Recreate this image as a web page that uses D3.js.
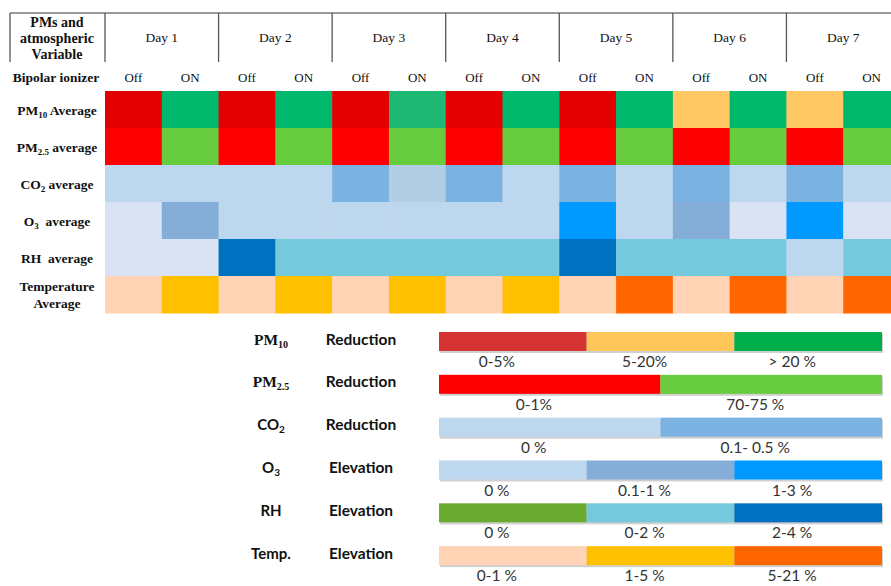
<!DOCTYPE html>
<html>
<head>
<meta charset="utf-8">
<script src="https://cdn.jsdelivr.net/npm/d3@7"></script>
<style>
  body { margin: 0; background: #fff; }
  svg { display: block; }
  text { white-space: pre; }
</style>
</head>
<body>
<script>
// ---- data ----
const days = ["Day 1", "Day 2", "Day 3", "Day 4", "Day 5", "Day 6", "Day 7"];
const ionizer = ["Off", "ON"];
const rowLabels = [["PM_{10} Average"], ["PM_{2.5} average"], ["CO_{2} average"],
                   ["O_{3}  average"], ["RH  average"], ["Temperature", "Average"]];

// one colour key per cell, Day 1 Off, Day 1 ON, Day 2 Off, ...
const pm10Cells = ["darkred","emerald","darkred","emerald","darkred","emerald2","darkred","emerald","darkred","emerald","apricot","emerald","apricot","emerald"];
const pm25Cells = ["red","lime","red","lime","red","lime","red","lime","red","lime","red","lime","red","lime"];
const co2Cells  = ["sky","sky","sky","sky","steel","mist","steel","sky","steel","sky","steel","sky","steel","sky"];
const o3Cells   = ["ice","slate","sky","sky","sky","sky","sky","sky","azure","sky","slate","ice","azure","ice"];
const rhCells   = ["ice","ice","navy","cyan","cyan","cyan","cyan","cyan","navy","cyan","cyan","cyan","sky","cyan"];
const tempCells = ["peach","amber","peach","amber","peach","amber","peach","amber","peach","orange","peach","orange","peach","orange"];
const cellRows = [pm10Cells, pm25Cells, co2Cells, o3Cells, rhCells, tempCells];

// legend
const legendNames  = ["PM_{10}", "PM_{2.5}", "CO_{2}", "O_{3}", "RH", "Temp."];
const legendKinds  = ["Reduction", "Reduction", "Reduction", "Elevation", "Elevation", "Elevation"];
const legendRanges = [["0-5%", "5-20%", "> 20 %"], ["0-1%", "70-75 %"], ["0 %", "0.1- 0.5 %"],
                      ["0 %", "0.1-1 %", "1-3 %"], ["0 %", "0-2 %", "2-4 %"], ["0-1 %", "1-5 %", "5-21 %"]];
const legendKeys   = [["brick", "gold", "forest"], ["red", "lime"], ["sky", "steel"],
                      ["sky", "slate", "azure"], ["grass", "cyan", "navy"], ["peach", "amber", "orange"]];

const colorKeys = ["darkred","emerald","emerald2","apricot","red","lime","ice","sky","steel","mist",
                   "slate","azure","navy","cyan","peach","amber","orange","brick","gold","forest","grass"];
const colorVals = ["#E30000","#00B86C","#1DB874","#FFC864","#FF0000","#68CC3F","#DAE3F3","#BDD7EE","#7AB2E1","#B3CDE4",
                   "#84AED8","#0099FF","#0070C0","#75C9DD","#FFD3B4","#FFC000","#FF6600","#D63333","#FFC65A","#00AE4C","#6BAA30"];

// ---- setup ----
const W = 891, H = 586;
const serif = "'Liberation Serif', 'Times New Roman', serif";
const sans = "Lato, 'Liberation Sans', Arial, sans-serif";

const svg = d3.select("body").append("svg")
    .attr("width", W)
    .attr("height", H);

const color = d3.scaleOrdinal().domain(colorKeys).range(colorVals);

const cols = d3.range(days.length * 2);
const xScale = d3.scaleBand().domain(cols).range([105, 900]);
const dayScale = d3.scaleBand().domain(days).range([105, 900]);
const yScale = d3.scaleBand().domain(d3.range(rowLabels.length)).range([91, 313]);

// text with _{sub} parts
function rich(sel, str, subSize) {
    const parts = str.split(/_\{([^}]*)\}/);
    let shifted = false;
    parts.forEach((p, i) => {
        if (!p) return;
        const t = sel.append("tspan").text(p);
        if (i % 2) { t.attr("font-size", subSize).attr("dy", 3); shifted = true; }
        else if (shifted) { t.attr("dy", -3); shifted = false; }
    });
}

// ---- header ----
svg.append("line")
    .attr("x1", 10).attr("x2", W).attr("y1", 13).attr("y2", 13)
    .attr("stroke", "#9a9a9a").attr("stroke-width", 2);

const seps = [10].concat(days.map(d => dayScale(d)));
svg.selectAll("line.sep").data(seps).enter().append("line")
    .attr("class", "sep")
    .attr("x1", d => d).attr("x2", d => d)
    .attr("y1", 13).attr("y2", 62)
    .attr("stroke", "#555").attr("stroke-width", 1.3);

const hdr = svg.append("text")
    .attr("font-family", serif).attr("font-weight", "bold").attr("font-size", 14)
    .attr("text-anchor", "middle").attr("fill", "#111");
["PMs and", "atmospheric", "Variable"].forEach((s, i) => {
    hdr.append("tspan").attr("x", 57).attr("y", 27 + i * 16).text(s);
});

svg.selectAll("text.day").data(days).enter().append("text")
    .attr("class", "day")
    .attr("x", d => dayScale(d) + dayScale.bandwidth() / 2)
    .attr("y", 42)
    .attr("text-anchor", "middle")
    .attr("font-family", serif).attr("font-size", 13.5).attr("fill", "#111")
    .text(d => d);

svg.append("text")
    .attr("x", 56).attr("y", 82)
    .attr("text-anchor", "middle")
    .attr("font-family", serif).attr("font-weight", "bold").attr("font-size", 13.5).attr("fill", "#111")
    .text("Bipolar ionizer");

svg.selectAll("text.state").data(cols).enter().append("text")
    .attr("class", "state")
    .attr("x", d => xScale(d) + xScale.bandwidth() / 2)
    .attr("y", 82)
    .attr("text-anchor", "middle")
    .attr("font-family", serif).attr("font-size", 13).attr("fill", "#111")
    .text(d => ionizer[d % 2]);

// ---- row labels ----
rowLabels.forEach((lines, r) => {
    const cy = yScale(r) + yScale.bandwidth() / 2 + 5;
    lines.forEach((s, k) => {
        const t = svg.append("text")
            .attr("x", 57)
            .attr("y", cy - (lines.length - 1) * 8.5 + k * 17)
            .attr("text-anchor", "middle")
            .attr("font-family", serif).attr("font-weight", "bold").attr("font-size", 13.5)
            .attr("fill", "#111");
        rich(t, s, 9);
    });
});

// ---- cells ----
cellRows.forEach((row, r) => {
    svg.append("g").selectAll("rect").data(row).enter().append("rect")
        .attr("x", (d, i) => xScale(i))
        .attr("y", yScale(r))
        .attr("width", xScale.bandwidth() + 0.5)
        .attr("height", yScale.bandwidth() + 0.5)
        .attr("fill", d => color(d));
});

// ---- legend ----
const legY = d3.scaleBand().domain(d3.range(legendNames.length)).range([332, 589]);
const legX = d3.scaleLinear().domain([0, 1]).range([439, 882]);
const barH = 19;

legendNames.forEach((name, r) => {
    const top = legY(r);
    const g = svg.append("g");
    const n = legendKeys[r].length;

    const nm = g.append("text")
        .attr("x", 271).attr("y", top + barH / 2 + 3)
        .attr("text-anchor", "middle")
        .attr("font-weight", "bold").attr("fill", "#111");
    if (r < 2) nm.attr("font-family", serif).attr("font-size", 15.5);
    else nm.attr("font-family", sans).attr("font-size", 15);
    rich(nm, name, 10);

    g.append("text")
        .attr("x", 361).attr("y", top + barH / 2 + 3)
        .attr("text-anchor", "middle")
        .attr("font-family", sans).attr("font-weight", "bold").attr("font-size", 15.5)
        .attr("fill", "#111")
        .text(legendKinds[r]);

    // shadow
    g.append("rect")
        .attr("x", legX(0) + 1).attr("y", top + 2)
        .attr("width", legX(1) - legX(0)).attr("height", barH)
        .attr("fill", "#d0d0d0");

    g.selectAll("rect.seg").data(legendKeys[r]).enter().append("rect")
        .attr("class", "seg")
        .attr("x", (d, i) => legX(i / n))
        .attr("y", top)
        .attr("width", legX(1 / n) - legX(0))
        .attr("height", barH)
        .attr("fill", d => color(d));

    g.selectAll("text.rng").data(legendRanges[r]).enter().append("text")
        .attr("class", "rng")
        .attr("x", (d, i) => legX((i + 0.5) / n) - 16)
        .attr("y", top + barH + 16)
        .attr("text-anchor", "middle")
        .attr("font-family", sans).attr("font-size", 15.5).attr("fill", "#333")
        .text(d => d);
});
</script>
</body>
</html>
